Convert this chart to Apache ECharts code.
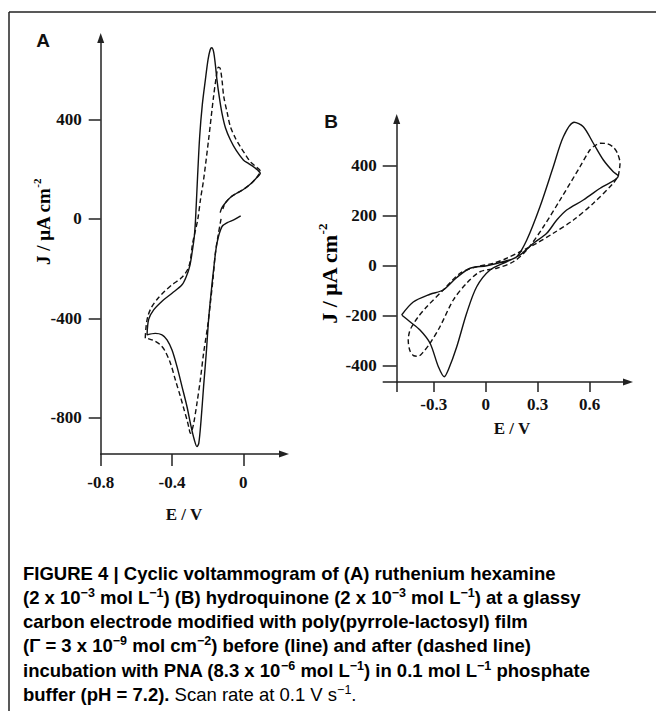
<!DOCTYPE html>
<html>
<head>
<meta charset="utf-8">
<script src="https://cdn.jsdelivr.net/npm/echarts@6/dist/echarts.min.js"></script>
<style>
html,body{margin:0;padding:0;background:#fff;}
#chart{width:656px;height:711px;}
</style>
</head>
<body>
<div id="chart"></div>
<script>
// ---------- Panel A: ruthenium hexamine ----------
const aBeforeE = [-0.015, -0.054, -0.09, -0.12, -0.148, -0.167, -0.181, -0.195, -0.208, -0.223, -0.237, -0.25, -0.26, -0.275, -0.293, -0.316, -0.344, -0.372, -0.4, -0.428, -0.456, -0.494, -0.54, -0.531, -0.503, -0.456, -0.4, -0.344, -0.32, -0.301, -0.288, -0.275, -0.268, -0.258, -0.245, -0.23, -0.213, -0.198, -0.186, -0.177, -0.167, -0.157, -0.148, -0.135, -0.12, -0.1, -0.073, -0.04, 0, 0.03, 0.056, 0.08, 0.095, 0.07, 0.04, 0.0, -0.04, -0.07, -0.1, -0.12, -0.13];
const aBeforeJ = [12, -4, -15, -31, -98, -205, -299, -406, -540, -674, -808, -902, -915, -888, -835, -755, -674, -594, -527, -486, -466, -460, -466, -404, -366, -331, -299, -265, -232, -191, -138, -71, 0, 150, 330, 460, 559, 640, 680, 688, 672, 620, 559, 490, 425, 365, 318, 275, 237, 222, 210, 196, 183, 162, 140, 118, 102, 88, 65, 45, 25];
const aAfterE = [-0.125, -0.14, -0.157, -0.17, -0.185, -0.2, -0.223, -0.24, -0.26, -0.278, -0.29, -0.297, -0.305, -0.316, -0.335, -0.353, -0.38, -0.409, -0.44, -0.466, -0.5, -0.53, -0.55, -0.545, -0.535, -0.515, -0.48, -0.44, -0.4, -0.344, -0.31, -0.297, -0.285, -0.27, -0.255, -0.24, -0.223, -0.195, -0.167, -0.152, -0.14, -0.13, -0.12, -0.11, -0.09, -0.073, -0.045, -0.017, 0.01, 0.039, 0.07, 0.095, 0.07, 0.04, 0.0, -0.04, -0.07, -0.1, -0.115];
const aAfterJ = [0, -60, -138, -240, -339, -430, -540, -640, -740, -820, -855, -862, -840, -808, -760, -714, -650, -580, -530, -506, -490, -482, -480, -430, -390, -355, -320, -290, -265, -235, -200, -165, -100, -50, 0, 80, 157, 318, 492, 570, 610, 605, 560, 492, 425, 371, 325, 290, 260, 230, 210, 192, 162, 140, 118, 102, 88, 65, 40];

// ---------- Panel B: hydroquinone ----------
const bBeforeE = [-0.485, -0.418, -0.321, -0.245, -0.167, -0.09, 0.006, 0.121, 0.179, 0.237, 0.313, 0.39, 0.448, 0.51, 0.563, 0.621, 0.679, 0.736, 0.765, 0.66, 0.563, 0.467, 0.41, 0.352, 0.275, 0.198, 0.121, 0.025, -0.052, -0.11, -0.167, -0.216, -0.239, -0.273, -0.321, -0.379, -0.437, -0.485];
const bBeforeJ = [-197, -145, -114, -97, -47, -10, 0, 20, 36, 103, 236, 396, 516, 574, 556, 490, 423, 376, 359, 310, 263, 223, 183, 130, 90, 43, 16, -17, -84, -190, -324, -417, -444, -404, -310, -257, -224, -197];
const bAfterE = [0.765, 0.775, 0.76, 0.735, 0.7, 0.66, 0.625, 0.6, 0.544, 0.429, 0.333, 0.237, 0.159, 0.063, -0.033, -0.11, -0.187, -0.264, -0.321, -0.36, -0.389, -0.415, -0.437, -0.447, -0.44, -0.427, -0.39, -0.34, -0.245, -0.148, -0.052, 0.044, 0.121, 0.198, 0.294, 0.39, 0.506, 0.621, 0.736, 0.765];
const bAfterJ = [359, 410, 450, 475, 488, 490, 478, 462, 396, 263, 156, 63, 16, -10, -24, -70, -137, -244, -310, -345, -362, -360, -340, -297, -265, -244, -205, -164, -97, -30, -4, 10, 30, 56, 90, 130, 183, 250, 330, 359];

// ---------- ticks ----------
const aXTicks = [-0.8, -0.4, 0];
const aYTicks = [-800, -400, 0, 400];
const bXTicks = [-0.3, 0, 0.3, 0.6];
const bYTicks = [-400, -200, 0, 200, 400];

// axis extents
const aXMin = -0.8, aXMax = 0.228, aYMin = -945, aYMax = 727;
const bXMin = -0.5135, bXMax = 0.821, bYMin = -465, bYMax = 587;

const zip = (xs, ys) => xs.map((x, i) => [x, ys[i]]);

const serif = "'Liberation Serif', 'Times New Roman', serif";
const capFont = "'Liberation Sans', Arial, sans-serif";
const axisColor = '#222';
const fmt = v => (v === 0 ? '0' : (Math.abs(v) < 1 ? v.toFixed(1) : String(v)));

function axisCfg(grid, min, max, ticks, extraTicks, margin, tickLen) {
  return {
    gridIndex: grid, type: 'value', min, max,
    axisLine: { onZero: false, symbol: ['none', 'triangle'], symbolSize: [7, 10], lineStyle: { color: axisColor, width: 1.5 } },
    axisTick: { customValues: extraTicks.concat(ticks), length: tickLen, lineStyle: { color: axisColor, width: 1.5 } },
    axisLabel: { customValues: ticks, margin, formatter: fmt, fontFamily: serif, fontWeight: 'bold', fontSize: 17, color: '#111' },
    splitLine: { show: false }
  };
}

const solid = { color: '#111', width: 1.4, type: 'solid' };
const dashed = { color: '#111', width: 1.4, type: [5, 3] };

const capRich = {
  b: { fontFamily: capFont, fontWeight: 'bold', fontSize: 18.5, color: '#262626', lineHeight: 24 },
  s: { fontFamily: capFont, fontWeight: 'bold', fontSize: 12.5, color: '#262626', lineHeight: 24, verticalAlign: 'top', padding: [1, 0, 0, 0] },
  n: { fontFamily: capFont, fontWeight: 'normal', fontSize: 18.5, color: '#262626', lineHeight: 24 },
  ns: { fontFamily: capFont, fontWeight: 'normal', fontSize: 12.5, color: '#262626', lineHeight: 24, verticalAlign: 'top', padding: [1, 0, 0, 0] }
};
const capLines = [
  '{b|FIGURE 4 | Cyclic voltammogram of (A) ruthenium hexamine}',
  '{b|(2 x 10}{s|−3}{b| mol L}{s|−1}{b|) (B) hydroquinone (2 x 10}{s|−3}{b| mol L}{s|−1}{b|) at a glassy}',
  '{b|carbon electrode modified with poly(pyrrole-lactosyl) film}',
  '{b|(Γ = 3 x 10}{s|−9}{b| mol cm}{s|−2}{b|) before (line) and after (dashed line)}',
  '{b|incubation with PNA (8.3 x 10}{s|−6}{b| mol L}{s|−1}{b|) in 0.1 mol L}{s|−1}{b| phosphate}',
  '{b|buffer (pH = 7.2).}{n| Scan rate at 0.1 V s}{ns|−1}{n|.}'
];
const capTop = 561, capStep = 24.3;

const titleRich = (fs) => ({
  t: { fontFamily: serif, fontWeight: 'bold', fontSize: fs, color: '#111', lineHeight: fs + 4 },
  u: { fontFamily: serif, fontWeight: 'bold', fontSize: Math.round(fs * 0.6), color: '#111', lineHeight: fs + 4, verticalAlign: 'top' }
});

const graphics = [
  { type: 'line', shape: { x1: 9, y1: 12, x2: 656, y2: 12 }, style: { stroke: '#222', lineWidth: 1.5 } },
  { type: 'line', shape: { x1: 9, y1: 12, x2: 9, y2: 711 }, style: { stroke: '#222', lineWidth: 1.5 } },
  { type: 'text', x: 43, y: 40, style: { text: 'A', font: "bold 19px 'Liberation Sans', Arial, sans-serif", fill: '#111', align: 'center', verticalAlign: 'middle' } },
  { type: 'text', x: 331, y: 121, style: { text: 'B', font: "bold 19px 'Liberation Sans', Arial, sans-serif", fill: '#111', align: 'center', verticalAlign: 'middle' } },
  { type: 'text', x: 43, y: 222, rotation: Math.PI / 2, style: { text: '{t|J / μA cm}{u|-2}', rich: titleRich(19), align: 'center', verticalAlign: 'middle' } },
  { type: 'text', x: 329, y: 274, rotation: Math.PI / 2, style: { text: '{t|J / μA cm}{u|-2}', rich: titleRich(22), align: 'center', verticalAlign: 'middle' } },
  { type: 'text', x: 184, y: 514, style: { text: 'E / V', font: "bold 17px " + serif, fill: '#111', align: 'center', verticalAlign: 'middle' } },
  { type: 'text', x: 512, y: 428, style: { text: 'E / V', font: "bold 17px " + serif, fill: '#111', align: 'center', verticalAlign: 'middle' } }
];
capLines.forEach((t, i) => {
  graphics.push({ type: 'text', x: 23, y: capTop + i * capStep, style: { text: t, rich: capRich, align: 'left', verticalAlign: 'top' } });
});

const chart = echarts.init(document.getElementById('chart'), null, { renderer: 'svg' });
chart.setOption({
  animation: false,
  backgroundColor: '#fff',
  grid: [
    { left: 100.7, top: 38, width: 183.3, height: 416 },
    { left: 396.7, top: 119, width: 231.3, height: 263 }
  ],
  xAxis: [
    axisCfg(0, aXMin, aXMax, aXTicks, [], 20, 12),
    axisCfg(1, bXMin, bXMax, bXTicks, [bXMin], 14, 10)
  ],
  yAxis: [
    axisCfg(0, aYMin, aYMax, aYTicks, [], 19, 12),
    axisCfg(1, bYMin, bYMax, bYTicks, [bYMin], 20, 14)
  ],
  series: [
    { type: 'line', xAxisIndex: 0, yAxisIndex: 0, data: zip(aBeforeE, aBeforeJ), showSymbol: false, smooth: 0.3, lineStyle: solid, clip: false },
    { type: 'line', xAxisIndex: 0, yAxisIndex: 0, data: zip(aAfterE, aAfterJ), showSymbol: false, smooth: 0.3, lineStyle: dashed, clip: false },
    { type: 'line', xAxisIndex: 1, yAxisIndex: 1, data: zip(bBeforeE, bBeforeJ), showSymbol: false, smooth: 0.3, lineStyle: solid, clip: false },
    { type: 'line', xAxisIndex: 1, yAxisIndex: 1, data: zip(bAfterE, bAfterJ), showSymbol: false, smooth: 0.3, lineStyle: dashed, clip: false }
  ],
  graphic: graphics
});
</script>
</body>
</html>
